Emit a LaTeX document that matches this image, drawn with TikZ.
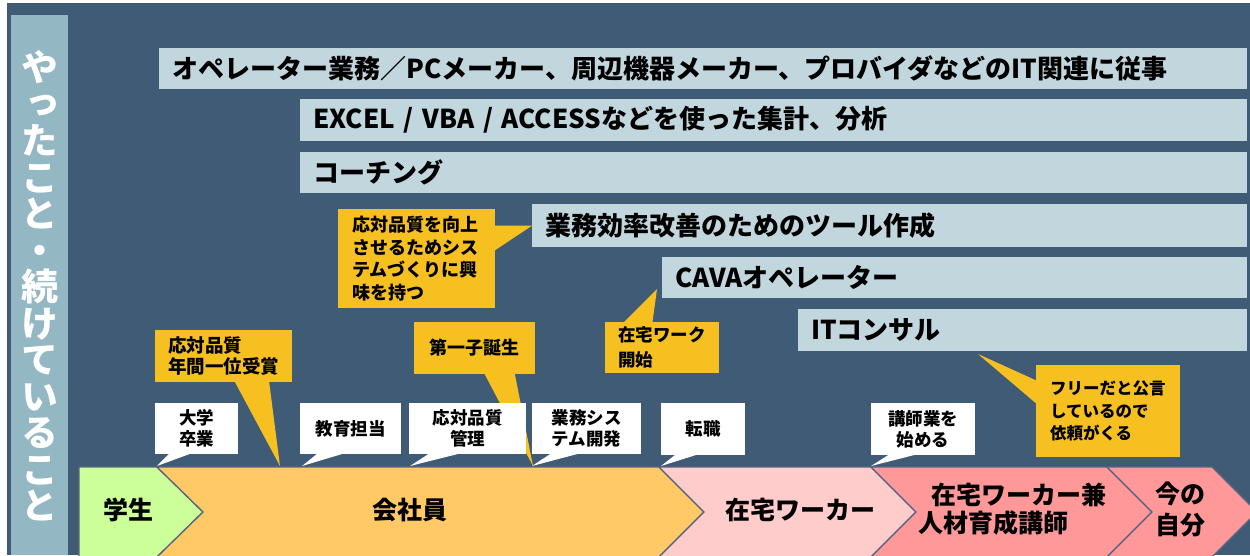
\documentclass[tikz,border=0pt]{standalone}
\usepackage{fontspec}
\setmainfont{Noto Sans CJK JP}
\newfontfamily\vjp[RawFeature=+vert]{Noto Sans CJK JP}
\usetikzlibrary{calc}
\definecolor{bgdark}{HTML}{3F5B76}
\definecolor{sidebar}{HTML}{93B7C3}
\definecolor{barfill}{HTML}{C2D6DE}
\definecolor{callyel}{HTML}{F6C021}
\definecolor{chgreen}{HTML}{CCFF99}
\definecolor{chorange}{HTML}{FFCA66}
\definecolor{chlpink}{HTML}{FFCCCC}
\definecolor{chpink}{HTML}{FF9999}
\definecolor{chline}{HTML}{5A6482}
\tikzset{
  bar/.style={fill=barfill, anchor=north west, inner xsep=13pt, inner ysep=0pt, align=left,
    font=\bfseries\fontsize{26}{30}\selectfont},
  ybox/.style={fill=callyel, anchor=north west, inner ysep=0pt, outer sep=0pt},
  wbox/.style={fill=white, anchor=north west, inner sep=0pt, outer sep=0pt, align=center,
    font=\bfseries\fontsize{17.5}{21}\selectfont},
  chev/.style={draw=chline, line width=1.3pt, line join=miter},
  chevtext/.style={font=\bfseries\fontsize{25}{29}\selectfont, inner sep=0pt},
}
\begin{document}
\begin{tikzpicture}[x=1pt,y=-1pt]
\useasboundingbox (0,0) rectangle (1250,555);
\fill[white] (0,0) rectangle (1250,555);
\fill[bgdark] (7,3) rectangle (1250,555);
\fill[sidebar] (11,15) rectangle (68,555);
\node[text=white, inner sep=0pt, align=center, font=\vjp\bfseries\fontsize{37}{36.5}\selectfont] (side) at (40,286)
  {や\\っ\\た\\こ\\と\\・\\続\\け\\て\\い\\る\\こ\\と};

% bars
\node[bar, text width=1062pt, minimum height=41pt] (b1) at (159,48) {オペレーター業務／PCメーカー、周辺機器メーカー、プロバイダなどのIT関連に従事};
\node[bar, text width=921pt, minimum height=42pt] (b2) at (300,99) {EXCEL / VBA / ACCESSなどを使った集計、分析};
\node[bar, text width=921pt, minimum height=41pt] (b3) at (300,152) {コーチング};
\node[bar, text width=689pt, minimum height=43pt] (b4) at (532,204) {業務効率改善のためのツール作成};
\node[bar, text width=559pt, minimum height=41pt] (b5) at (662,257) {CAVAオペレーター};
\node[bar, text width=423pt, minimum height=42pt] (b6) at (798,309) {ITコンサル};

% chevrons
\path[chev, fill=chgreen] (79,467) -- (157,467) -- (203,512) -- (157,557) -- (79,557) -- cycle;
\path[chev, fill=chorange] (157,467) -- (659,467) -- (704,512) -- (659,557) -- (157,557) -- (203,512) -- cycle;
\path[chev, fill=chlpink] (659,467) -- (871,467) -- (916,512) -- (871,557) -- (659,557) -- (704,512) -- cycle;
\path[chev, fill=chpink] (871,467) -- (1107,467) -- (1152,512) -- (1107,557) -- (871,557) -- (916,512) -- cycle;
\path[chev, fill=chpink] (1107,467) -- (1212,467) -- (1257,512) -- (1212,557) -- (1107,557) -- (1152,512) -- cycle;
\node[chevtext] (s1) at (128,510) {学生};
\node[chevtext] (s2) at (410,510) {会社員};
\node[chevtext] (s3) at (800,510) {在宅ワーカー};
\node[chevtext, align=left, anchor=west, font=\bfseries\fontsize{25}{28}\selectfont] (s4) at (918,509) {\hspace*{13pt}在宅ワーカー兼\\人材育成講師};
\node[chevtext, align=center, font=\bfseries\fontsize{25}{31}\selectfont] (s5) at (1180,509) {今の\\自分};

% yellow callouts
\coordinate (tB) at (533,466);
\coordinate (tC) at (657,289);
\coordinate (tD) at (280,466);
\coordinate (tE) at (978,354);
\node[ybox, minimum width=157pt, minimum height=99pt, inner xsep=14pt, text width=129pt, align=left,
  font=\bfseries\fontsize{18}{22.5}\selectfont] (cA) at (338,209) {応対品質を向上\\させるためシス\\テムづくりに興\\味を持つ};
\node[ybox, minimum width=121pt, minimum height=52pt, inner xsep=0pt, align=center,
  font=\bfseries\fontsize{18}{22}\selectfont] (cB) at (414,322) {第一子誕生};
\node[ybox, minimum width=114pt, minimum height=51pt, inner xsep=13pt, text width=88pt, align=left,
  font=\bfseries\fontsize{17.5}{25}\selectfont] (cC) at (605,322) {在宅ワーク\\開始};
\node[ybox, minimum width=137pt, minimum height=52pt, inner xsep=13pt, text width=111pt, align=left,
  font=\bfseries\fontsize{18.5}{21}\selectfont] (cD) at (155,330) {応対品質\\年間一位受賞};
\node[ybox, minimum width=144pt, minimum height=92pt, inner xsep=14pt, text width=116pt, align=left,
  font=\bfseries\fontsize{16.5}{22.5}\selectfont] (cE) at (1036,365) {フリーだと公言\\しているので\\依頼がくる};
\fill[callyel] ($(cA.north east)!2/12!(cA.south east)$) -- ($(cA.north east)!5/12!(cA.south east)$) -- (b4.west) -- cycle;
\fill[callyel] ($(cB.south west)!7/12!(cB.south east)$) -- ($(cB.south west)!10/12!(cB.south east)$) -- (tB) -- cycle;
\fill[callyel] ($(cC.north west)!2/12!(cC.north east)$) -- ($(cC.north west)!5/12!(cC.north east)$) -- (tC) -- cycle;
\fill[callyel] ($(cD.south west)!7/12!(cD.south east)$) -- ($(cD.south west)!10/12!(cD.south east)$) -- (tD) -- cycle;
\fill[callyel] ($(cE.north west)!2/12!(cE.south west)$) -- ($(cE.north west)!5/12!(cE.south west)$) -- (tE) -- cycle;

% white labels
\coordinate (t1) at (157,466);
\coordinate (t2) at (302,466);
\coordinate (t3) at (410,466);
\coordinate (t4) at (532,466);
\coordinate (t5) at (661,466);
\coordinate (t6) at (871,466);
\node[wbox, minimum width=83pt, minimum height=51pt] (L1) at (155,403) {大学\\卒業};
\node[wbox, minimum width=101pt, minimum height=51pt] (L2) at (300,403) {教育担当};
\node[wbox, minimum width=117pt, minimum height=51pt] (L3) at (409,403) {応対品質\\管理};
\node[wbox, minimum width=109pt, minimum height=51pt] (L4) at (532,403) {業務シス\\テム開発};
\node[wbox, minimum width=84pt, minimum height=52pt] (L5) at (661,403) {転職};
\node[wbox, minimum width=104pt, minimum height=52pt] (L6) at (871,403) {講師業を\\始める};
\foreach \n/\t in {L1/t1,L2/t2,L3/t3,L4/t4,L5/t5,L6/t6}{
  \fill[white] ($(\n.south west)!2/12!(\n.south east)$) -- ($(\n.south west)!5/12!(\n.south east)$) -- (\t) -- cycle;
}
\end{tikzpicture}
\end{document}
